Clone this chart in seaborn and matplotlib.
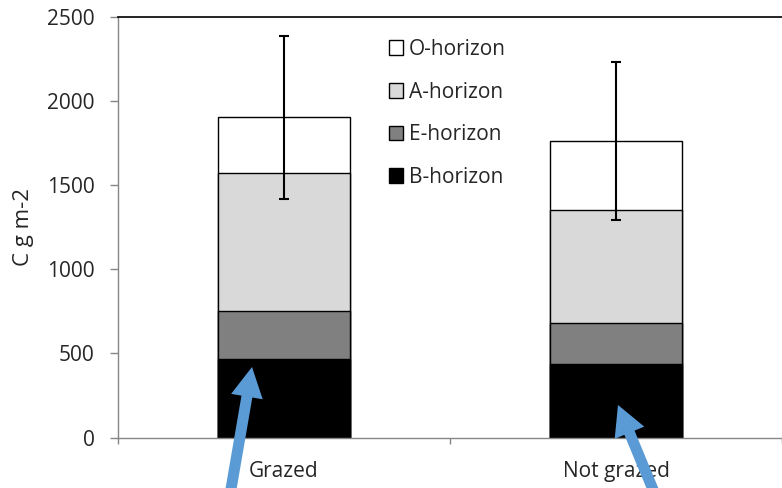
import numpy as np
import pandas as pd
import matplotlib
matplotlib.use("Agg")
import matplotlib.pyplot as plt
from matplotlib.patches import Patch, FancyArrow
from matplotlib.transforms import IdentityTransform
import seaborn as sns

# Soil carbon stocks by horizon (C g m-2)
sites = ["Grazed", "Not grazed"]
b_horizon = [470, 436]
e_horizon = [283, 244]
a_horizon = [821, 676]
o_horizon = [332, 407]
total_err = [485, 469]

layer_names = ["O-horizon", "A-horizon", "E-horizon", "B-horizon"]
layer_colors = ["#FFFFFF", "#D9D9D9", "#808080", "#000000"]

sns.set_theme(style="white")
plt.rcParams["font.family"] = ["Open Sans", "DejaVu Sans"]

# cumulative tops of each layer, drawn from the tallest downwards
b_top = np.array(b_horizon)
e_top = b_top + np.array(e_horizon)
a_top = e_top + np.array(a_horizon)
o_top = a_top + np.array(o_horizon)
tops = [o_top, a_top, e_top, b_top]

W, H = 782, 488
fig = plt.figure(figsize=(W / 100, H / 100), dpi=100)
ax = fig.add_axes([118 / W, (H - 437.5) / H, (W - 118) / W, (437.5 - 17.3) / H])

for top, color in zip(tops, layer_colors):
    df = pd.DataFrame({"site": sites, "value": top})
    sns.barplot(data=df, x="site", y="value", color=color, width=0.4,
                edgecolor="black", linewidth=1.0, errorbar=None,
                saturation=1, ax=ax, zorder=2)

ax.errorbar(range(len(sites)), o_top, yerr=total_err, fmt="none",
            ecolor="black", elinewidth=1.5, capsize=3.6, capthick=1.5, zorder=3)

ax.set_ylim(0, 2500)
ax.set_xlim(-0.5, 1.49)
ax.set_yticks([0, 500, 1000, 1500, 2000, 2500])
ax.set_xlabel("")
ax.set_ylabel("C g m-2", fontsize=16)
ax.yaxis.set_label_coords(-0.1265, 0.5)

ax.tick_params(axis="y", which="major", direction="out", length=6, width=1,
               color="#868686", labelsize=15, pad=11, left=True)
ax.tick_params(axis="x", which="major", length=0, labelsize=15, pad=17)
ax.set_xticks([-0.5, 0.5, 1.5], minor=True)
ax.tick_params(axis="x", which="minor", direction="out", length=4.5, width=1,
               color="#868686", bottom=True)

for side in ("left", "bottom"):
    ax.spines[side].set_color("#868686")
    ax.spines[side].set_linewidth(1.0)
ax.spines["top"].set_color("black")
ax.spines["top"].set_linewidth(1.2)
ax.spines["right"].set_visible(False)

handles = [Patch(facecolor=c, edgecolor="black", linewidth=1.0) for c in layer_colors]
ax.legend(handles, layer_names, loc="upper left",
          bbox_to_anchor=(389 / W, (H - 39) / H), bbox_transform=fig.transFigure,
          frameon=False, fontsize=15, handlelength=0.67, handleheight=0.7,
          handletextpad=0.3, labelspacing=1.04, borderpad=0, borderaxespad=0)

# pointers to the B-horizon of each bar
arrow_color = "#5B9BD5"
for (x0, y0), (x1, y1) in [((230.5, 492), (252, 367)), ((654, 492), (618, 405))]:
    arr = FancyArrow(x0, H - y0, x1 - x0, (H - y1) - (H - y0), width=11,
                     head_width=32, head_length=30, length_includes_head=True,
                     color=arrow_color, linewidth=0, transform=IdentityTransform(),
                     zorder=10)
    fig.add_artist(arr)

fig.savefig("out.png", dpi=100)
